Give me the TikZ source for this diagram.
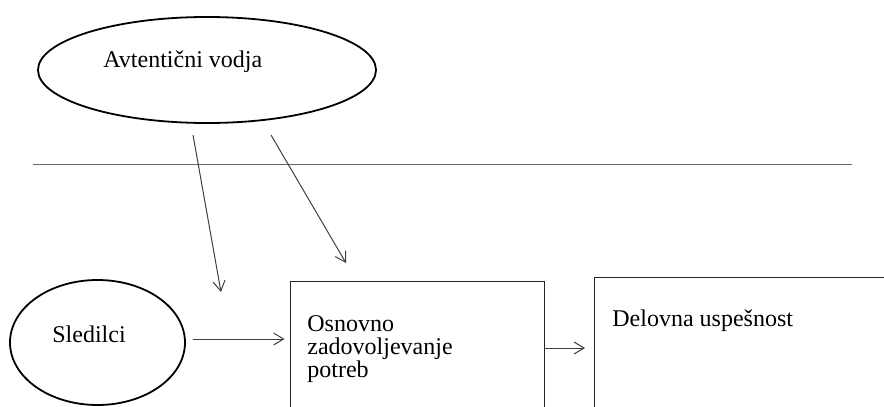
\documentclass[tikz,border=0pt]{standalone}
\usepackage{fontspec}
\setmainfont{Liberation Serif}
\usetikzlibrary{shapes.geometric,arrows.meta}
\begin{document}
\begin{tikzpicture}[x=0.5pt,y=-0.5pt,
  oval/.style={draw=black,line width=0.9pt,ellipse,inner sep=0pt},
  panel/.style={draw=black!85,line width=0.6pt,rectangle,anchor=north west,inner sep=0pt},
  lbl/.style={anchor=base west,inner sep=0pt,font=\fontsize{12}{11.5}\selectfont,align=left},
  arr/.style={draw=black!75,line width=0.5pt,-{Straight Barb[length=5pt,width=6pt]}},
  divider/.style={draw=black!60,line width=0.75pt}]
\useasboundingbox (0,0) rectangle (884,407);
\clip (0,0) rectangle (884,407);

% actors
\node[oval,minimum width=169pt,minimum height=53pt] (leader) at (207,70) {};
\node[lbl] (leadertxt) at (103,67) {Avtentični vodja};
\node[oval,minimum width=87.5pt,minimum height=62.5pt] (follow) at (97.5,342.5) {};
\node[lbl] (followtxt) at (52,342) {Sledilci};

% boxes (running past the lower and right edge)
\node[panel,minimum width=127.25pt,minimum height=80pt] (need) at (289.5,281) {};
\node[lbl] (needtxt) at (307,377) {Osnovno\\zadovoljevanje\\potreb};
\node[panel,minimum width=160pt,minimum height=80pt] (perf) at (594,277) {};
\node[lbl] (perftxt) at (612,326) {Delovna uspešnost};

% dividing line
\coordinate (divL) at (33,164.5);
\coordinate (divR) at (852,164.5);
\draw[divider] (divL) -- (divR);

% influence of the leader
\coordinate (l1s) at (193,135);
\coordinate (l1e) at (221,292);
\coordinate (l2s) at (271,135);
\coordinate (l2e) at (346,263);
\draw[arr] (l1s) -- (l1e);
\draw[arr] (l2s) -- (l2e);

% flow
\coordinate (f1) at (193,339);
\draw[arr,shorten >=2.5pt] (f1) -- (f1 -| need.west);
\coordinate (f2) at (544,348);
\draw[arr,shorten >=4.5pt] (f2) -- (f2 -| perf.west);
\end{tikzpicture}
\end{document}
